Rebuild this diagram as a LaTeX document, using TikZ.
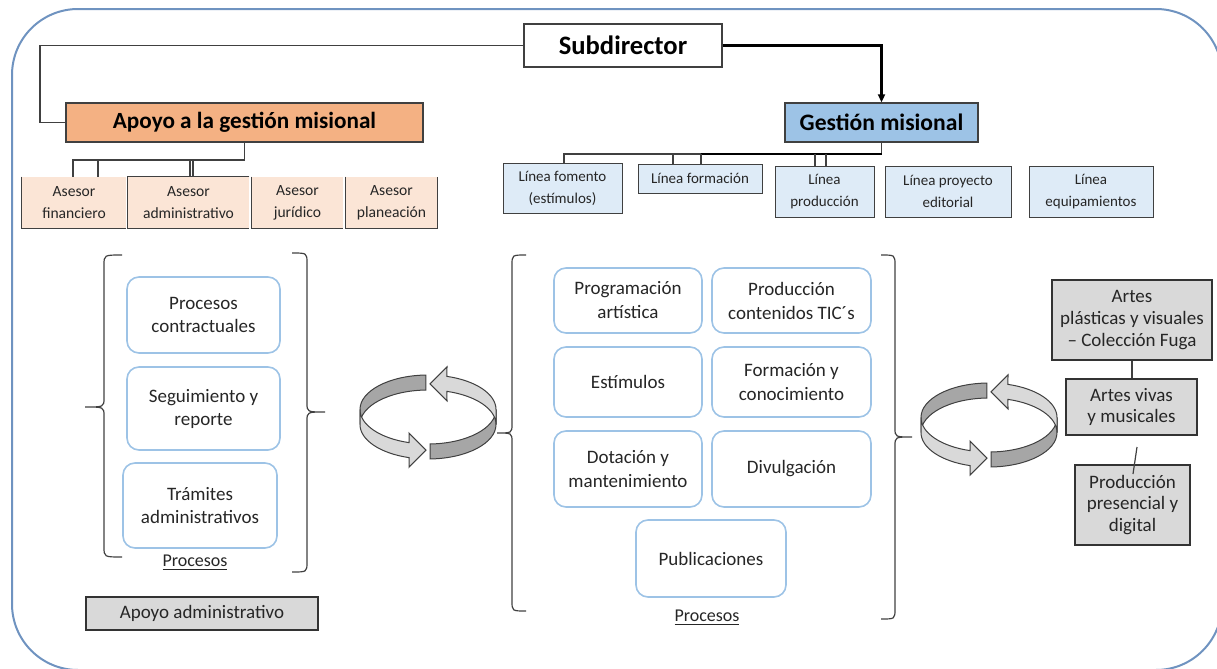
\documentclass[tikz,border=0pt]{standalone}
\usepackage{fontspec}
\setmainfont{Carlito}
\usetikzlibrary{arrows.meta}
\definecolor{framec}{HTML}{6F93C0}
\definecolor{orangec}{HTML}{F4B183}
\definecolor{bluec}{HTML}{9DC3E6}
\definecolor{peach}{HTML}{FBE5D6}
\definecolor{lblue}{HTML}{DEEBF7}
\definecolor{rblue}{HTML}{9DC3E6}
\definecolor{grayc}{HTML}{D9D9D9}
\definecolor{linec}{HTML}{404040}
\definecolor{ringd}{HTML}{A6A6A6}
\definecolor{ringl}{HTML}{D9D9D9}
\newcommand{\mybrace}[6]{%
  \draw[bracestyle] (#2,#4) .. controls (#1,#4) .. (#1,#4+10) -- (#1,#5-9) .. controls (#1,#5) .. (#3,#5) .. controls (#1,#5) .. (#1,#5+9) -- (#1,#6-10) .. controls (#1,#6) .. (#2,#6);}
\newcommand{\ringhalf}{%
  \filldraw[ringdarkst] ([shift={(0,7.5)}]91.7:68 and 34.5) arc[start angle=91.7,end angle=180,x radius=68,y radius=34.5] -- ([shift={(0,-7.5)}]180:68 and 34.5) arc[start angle=180,end angle=91.7,x radius=68,y radius=34.5] -- cycle;
  \filldraw[ringlightst] ([shift={(0,7.5)}]180:68 and 34.5) arc[start angle=180,end angle=253.8,x radius=68,y radius=34.5] -- (-19,-16.1) -- (-2,-33.1) -- (-19,-50.1) -- ([shift={(0,-7.5)}]253.8:68 and 34.5) arc[start angle=253.8,end angle=180,x radius=68,y radius=34.5] -- cycle;}
\newcommand{\ringpair}[2]{%
  \begin{scope}[shift={(#1,#2)},yscale=-1]
    \ringhalf
    \begin{scope}[rotate=180]\ringhalf\end{scope}
  \end{scope}}
\begin{document}
\begin{tikzpicture}[x=0.5pt,y=-0.5pt,
  topbox/.style={draw=linec,line width=0.7pt,inner sep=0pt,align=center,text=black},
  subst/.style={topbox,fill=white,font=\fontsize{13.3}{15}\selectfont\bfseries,minimum width=99pt,minimum height=21.5pt},
  apst/.style={topbox,fill=orangec,font=\fontsize{11.6}{13}\selectfont\bfseries,minimum width=178.5pt,minimum height=19.5pt},
  gmst/.style={topbox,fill=bluec,font=\fontsize{11.8}{13}\selectfont\bfseries,minimum width=96.5pt,minimum height=19.5pt},
  asesor/.style={fill=peach,inner sep=0pt,align=center,font=\fontsize{7.8}{11}\selectfont,minimum height=25.5pt,text=black!85},
  asedge/.style={draw=linec,line width=0.6pt},
  linea/.style={fill=lblue,draw=linec,line width=0.5pt,align=center,font=\fontsize{7.5}{11}\selectfont,inner sep=0pt,text=black!85},
  proc/.style={draw=rblue,line width=0.8pt,rounded corners=6pt,fill=white,align=center,font=\fontsize{9.5}{12}\selectfont,inner sep=0pt,text=black!85},
  gbox/.style={draw=black!80,line width=0.7pt,fill=grayc,align=center,font=\fontsize{9.5}{10.8}\selectfont,inner sep=0pt,text=black!85},
  lbl/.style={inner sep=0pt,font=\fontsize{9}{10}\selectfont,text=black!85},
  conn/.style={draw=linec,line width=0.6pt},
  thickconn/.style={draw=black,line width=1.3pt},
  bracestyle/.style={draw=linec,line width=0.6pt},
  ringdarkst/.style={fill=ringd,draw=black!75,line width=0.5pt},
  ringlightst/.style={fill=ringl,draw=black!75,line width=0.5pt}]
\useasboundingbox (0,0) rectangle (1217,669);
\begin{scope}
  \clip (0,0) rectangle (1217,669);
  \draw[framec,line width=1pt,rounded corners=33pt] (12,9) rectangle (1222,670);
\end{scope}

% top level
\node[subst] (sub) at (623,45.5) {Subdirector};
\node[apst] (apoyo) at (244.5,122.5) {Apoyo a la gestión misional};
\node[gmst] (gest) at (881.5,122.5) {Gestión misional};

\coordinate (lc) at (40,45.5);
\draw[conn] (sub.west) -- (lc) |- (apoyo.west);
\draw[thickconn,-{Triangle[length=4pt,width=3.5pt]}] (sub.east) -| (gest.north);

% asesores
\node[asesor,minimum width=52pt] (fin) at (74,202.5) {Asesor\\financiero};
\node[asesor,minimum width=60.5pt] (adm) at (188.5,202.5) {Asesor\\administrativo};
\node[asesor,minimum width=45.5pt] (jur) at (297.5,202.5) {Asesor\\jurídico};
\node[asesor,minimum width=45.5pt] (pla) at (391.5,202.5) {Asesor\\planeación};
\draw[asedge] (fin.north west) -- (fin.south west) -- (fin.south east);
\draw[asedge] (adm.north east) -- (adm.north west) -- (adm.south west) -- (adm.south east);
\draw[asedge] (jur.north west) -- (jur.south west) -- (jur.south east);
\draw[asedge] (pla.north west) -- (pla.south west) -- (pla.south east) -- (pla.north east);

\coordinate (aj) at (244.5,160);
\draw[conn] (apoyo.south) -- (aj) -- (73,160) -- (73,0 |- fin.north);
\draw[conn] (98,160) -- (98,0 |- fin.north);
\draw[conn] (190,160) -- (190,0 |- adm.north);
\draw[conn] (193,160) -- (193,0 |- adm.north);

% lineas
\node[linea,minimum width=59.5pt,minimum height=25pt] (fom) at (562.5,188) {Línea fomento\\(estímulos)};
\node[linea,minimum width=62pt,minimum height=14.5pt] (for) at (700,178.5) {Línea formación};
\node[linea,minimum width=49.5pt,minimum height=25.5pt] (pro) at (824.5,191.5) {Línea\\producción};
\node[linea,minimum width=63pt,minimum height=25.5pt] (edi) at (948,191.5) {Línea proyecto\\editorial};
\node[linea,minimum width=62pt,minimum height=25.5pt] (equ) at (1091,191.5) {Línea\\equipamientos};

\coordinate (gj) at (881.5,154);
\coordinate (gk) at (701,154);
\draw[conn] (gest.south) -- (gj);
\draw[thickconn] (gj) -- (gk);
\draw[conn] (gk) -- (564,154) -- (564,0 |- fom.north);
\draw[conn] (673,154) -- (673,0 |- for.north);
\draw[conn] (gk) -- (701,0 |- for.north);
\draw[conn] (815,154) -- (815,0 |- pro.north);
\draw[conn] (826,154) -- (826,0 |- pro.north);

% left processes
\node[proc,minimum width=76.5pt,minimum height=38pt,font=\fontsize{9.5}{11.5}\selectfont] (pc) at (203.5,315) {Procesos\\contractuales};
\node[proc,minimum width=76.5pt,minimum height=41.5pt,font=\fontsize{9.5}{11.5}\selectfont] (sr) at (203.5,408.5) {Seguimiento y\\reporte};
\node[proc,minimum width=77pt,minimum height=42.5pt,font=\fontsize{9.5}{11.5}\selectfont] (ta) at (200,505.5) {Trámites\\administrativos};
\node[lbl] (lp1) at (195,563) {\underline{Procesos}};
\node[gbox,minimum width=116pt,minimum height=16.5pt] (apadm) at (202,613.5) {Apoyo administrativo};
\mybrace{104}{122}{85}{255}{407}{557}
\mybrace{307}{292}{325}{253}{412}{572}

% middle processes
\node[proc,minimum width=74pt,minimum height=32.5pt] (pa) at (628,300.5) {Programación\\artística};
\node[proc,minimum width=79.5pt,minimum height=32.5pt] (ptic) at (791.5,300.5) {Producción\\contenidos TIC´s};
\node[proc,minimum width=74pt,minimum height=35pt] (est) at (628,382) {Estímulos};
\node[proc,minimum width=79.5pt,minimum height=35pt] (fc) at (791.5,382) {Formación y\\conocimiento};
\node[proc,minimum width=74pt,minimum height=38pt] (dm) at (628,469) {Dotación y\\mantenimiento};
\node[proc,minimum width=79.5pt,minimum height=38pt] (dv) at (791.5,469) {Divulgación};
\node[proc,minimum width=75pt,minimum height=38.5pt] (pub) at (711,558.5) {Publicaciones};
\node[lbl] (lp2) at (707,618) {\underline{Procesos}};
\mybrace{512}{526}{497}{255}{433}{611}
\mybrace{895}{881}{912}{255}{437}{619}

% rings
\ringpair{428}{417}
\ringpair{989}{425}

% right grey boxes
\node[gbox,minimum width=80pt,minimum height=40pt] (apv) at (1132,320) {Artes\\plásticas y visuales\\– Colección Fuga};
\node[gbox,minimum width=65.5pt,minimum height=28pt] (avm) at (1131.5,407) {Artes vivas\\y musicales};
\node[gbox,minimum width=57.5pt,minimum height=40pt] (ppd) at (1132.5,505) {Producción\\presencial y\\digital};
\draw[conn] (apv.south) -- (apv.south |- avm.north);
\coordinate (lnA) at (1137,447);
\coordinate (lnB) at (1133,474);
\draw[conn] (lnA) -- (lnB);
\end{tikzpicture}
\end{document}
